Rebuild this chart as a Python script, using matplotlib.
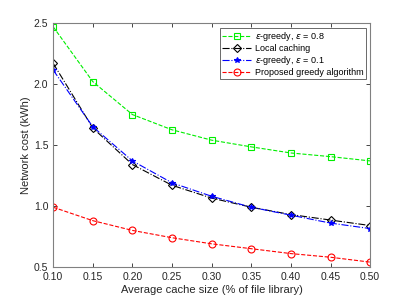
import matplotlib
matplotlib.use("Agg")
import matplotlib.pyplot as plt

cache_size = [0.10, 0.15, 0.20, 0.25, 0.30, 0.35, 0.40, 0.45, 0.50]
eps08 = [2.47, 2.02, 1.75, 1.625, 1.54, 1.485, 1.435, 1.405, 1.37]
local = [2.17, 1.64, 1.34, 1.17, 1.065, 0.99, 0.93, 0.885, 0.84]
eps01 = [2.115, 1.65, 1.37, 1.19, 1.08, 0.99, 0.925, 0.86, 0.815]
greedy = [0.99, 0.88, 0.80, 0.74, 0.69, 0.65, 0.61, 0.58, 0.54]
xticks = [0.10, 0.15, 0.20, 0.25, 0.30, 0.35, 0.40, 0.45, 0.50]
yticks = [0.5, 1.0, 1.5, 2.0, 2.5]

plt.rcParams['font.family'] = ['Liberation Sans', 'DejaVu Sans']
fig = plt.figure(figsize=(4.09, 3.0), dpi=100)
ax = fig.add_axes([0.13, 0.11, 0.775, 0.813])

lw = 0.8
ax.plot(cache_size, eps08, linestyle='--', color='#00ee00', marker='s', mfc='none', ms=5, lw=lw, mew=0.8,
        label=r'$\epsilon$-greedy, $\epsilon$ = 0.8')
ax.plot(cache_size, local, linestyle='-.', color='black', marker='D', mfc='none', ms=4.5, lw=lw, mew=0.8,
        label='Local caching')
ax.plot(cache_size, eps01, linestyle='-.', color='blue', marker='*', ms=4, lw=lw, mew=0.8,
        label=r'$\epsilon$-greedy, $\epsilon$ = 0.1')
ax.plot(cache_size, greedy, linestyle='--', color='red', marker='o', mfc='none', ms=5, lw=lw, mew=0.8,
        label='Proposed greedy algorithm')

ax.set_xlim(0.10, 0.50)
ax.set_ylim(0.5, 2.5)
ax.set_xticks(xticks)
ax.set_xticklabels(['%.2f' % v for v in xticks])
ax.set_yticks(yticks)
ax.set_yticklabels(['%.1f' % v for v in yticks])
ax.tick_params(direction='in', length=3, width=0.6, colors='#262626', labelsize=7.5, top=True, right=True)
for s in ax.spines.values():
    s.set_color('#808080')
    s.set_linewidth(0.8)
ax.set_xlabel('Average cache size (% of file library)', fontsize=8, color='#262626', labelpad=2)
ax.set_ylabel('Network cost (kWh)', fontsize=8, color='#262626', labelpad=2)

leg = ax.legend(loc='upper right', fontsize=6.5, frameon=True, fancybox=False, borderpad=0.25,
                labelspacing=0.12, handlelength=3.2, handletextpad=0.4, borderaxespad=0.5)
leg.get_frame().set_edgecolor('#262626')
leg.get_frame().set_linewidth(0.6)

fig.savefig('out.png', dpi=100)
